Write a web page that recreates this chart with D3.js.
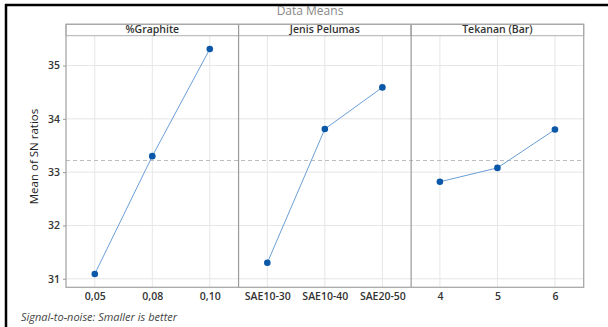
<!DOCTYPE html>
<html><head><meta charset="utf-8">
<script src="https://cdn.jsdelivr.net/npm/d3@7"></script>
<style>body{margin:0;background:#fff}svg{display:block}</style>
</head><body>
<script>
const panelTitles = ["%Graphite", "Jenis Pelumas", "Tekanan (Bar)"];
const graphiteLevels = ["0,05", "0,08", "0,10"];
const graphiteMeans = [31.09, 33.30, 35.31];
const pelumasLevels = ["SAE10-30", "SAE10-40", "SAE20-50"];
const pelumasMeans = [31.30, 33.81, 34.59];
const tekananLevels = ["4", "5", "6"];
const tekananMeans = [32.82, 33.08, 33.80];
const yTicks = [31, 32, 33, 34, 35];
const grandMean = 33.23;

(function () {
const W = 608, H = 327;
const svg = d3.select("body").append("svg").attr("width", W).attr("height", H);
const font = "'Open Sans', 'Noto Sans', sans-serif";

const pLeft = 66, pRight = 583.7, pTop = 35.7, pBottom = 287.3, headTop = 24.3;
const y = d3.scaleLinear().domain([30.84, 35.56]).range([pBottom, pTop]);
const panelX = d3.scaleBand().domain(panelTitles).range([pLeft, pRight]).paddingInner(0).paddingOuter(0);

const panels = [
  {title: panelTitles[0], levels: graphiteLevels, means: graphiteMeans},
  {title: panelTitles[1], levels: pelumasLevels, means: pelumasMeans},
  {title: panelTitles[2], levels: tekananLevels, means: tekananMeans}
];

// outer frame (black, left and top)
svg.append("line").attr("x1", 6).attr("x2", 6).attr("y1", 4).attr("y2", H).attr("stroke", "#000").attr("stroke-width", 2.5);
svg.append("line").attr("x1", 5).attr("x2", W).attr("y1", 5).attr("y2", 5).attr("stroke", "#000").attr("stroke-width", 2.5);

// title
svg.append("text").attr("x", 310).attr("y", 15).attr("text-anchor", "middle")
  .attr("font-family", font).attr("font-size", 12).attr("fill", "#888").text("Data Means");

// horizontal gridlines
svg.append("g").selectAll("line").data(yTicks).join("line")
  .attr("x1", pLeft).attr("x2", pRight).attr("y1", d => y(d)).attr("y2", d => y(d))
  .attr("stroke", "#e6e6e6").attr("stroke-width", 1);

panels.forEach(p => {
  const x0 = panelX(p.title), w = panelX.bandwidth();
  const x = d3.scalePoint().domain(p.levels).range([x0, x0 + w]).padding(0.5);
  const g = svg.append("g");
  g.selectAll("line.vg").data(p.levels).join("line").attr("class", "vg")
    .attr("x1", d => x(d)).attr("x2", d => x(d)).attr("y1", pTop).attr("y2", pBottom)
    .attr("stroke", "#e6e6e6").attr("stroke-width", 1);
  g.append("rect").attr("x", x0).attr("y", headTop).attr("width", w).attr("height", pTop - headTop)
    .attr("fill", "#fff").attr("stroke", "#b0b0b0").attr("stroke-width", 1);
  g.append("text").attr("x", x0 + w / 2).attr("y", pTop - 2.5).attr("text-anchor", "middle")
    .attr("font-family", font).attr("font-size", 10.5).attr("font-weight", 600).attr("fill", "#333").text(p.title);
  const ax = d3.axisBottom(x).tickSize(0).tickPadding(5);
  const axg = svg.append("g").attr("transform", `translate(0,${pBottom})`).call(ax);
  axg.select(".domain").remove();
  axg.selectAll("text").attr("font-family", font).attr("font-size", 10.5).attr("font-weight", 600).attr("fill", "#333");
  p.x = x;
});

// dashed grand mean line
svg.append("line").attr("x1", pLeft).attr("x2", pRight).attr("y1", Math.round(y(grandMean)) + 0.5).attr("y2", Math.round(y(grandMean)) + 0.5)
  .attr("stroke", "#bdbdbd").attr("stroke-width", 1).attr("stroke-dasharray", "4,3");

// panel dividers and frame
panels.slice(1).forEach(p => {
  const xx = panelX(p.title);
  svg.append("line").attr("x1", xx).attr("x2", xx).attr("y1", headTop).attr("y2", pBottom)
    .attr("stroke", "#9a9a9a").attr("stroke-width", 1.2);
});
svg.append("rect").attr("x", pLeft).attr("y", headTop).attr("width", pRight - pLeft).attr("height", pBottom - headTop)
  .attr("fill", "none").attr("stroke", "#a8a8a8").attr("stroke-width", 1.3);

// lines and points
panels.forEach(p => {
  const pts = p.levels.map((l, i) => [p.x(l), y(p.means[i])]);
  svg.append("path").attr("d", d3.line()(pts)).attr("fill", "none").attr("stroke", "#6b9ed6").attr("stroke-width", 1);
  svg.append("g").selectAll("circle").data(pts).join("circle")
    .attr("cx", d => d[0]).attr("cy", d => d[1]).attr("r", 3.3).attr("fill", "#0b57a8");
});

// y axis
const yax = d3.axisLeft(y).tickValues(yTicks).tickSize(3).tickPadding(3).tickFormat(d3.format("d"));
const yg = svg.append("g").attr("transform", `translate(${pLeft},0)`).call(yax);
yg.select(".domain").remove();
yg.selectAll(".tick line").attr("stroke", "#999");
yg.selectAll("text").attr("font-family", font).attr("font-size", 10.5).attr("font-weight", 600).attr("fill", "#333");

svg.append("text").attr("transform", `translate(38,${(pTop + pBottom) / 2 - 5}) rotate(-90)`)
  .attr("text-anchor", "middle").attr("font-family", font).attr("font-size", 11.5).attr("fill", "#222")
  .text("Mean of SN ratios");

svg.append("text").attr("x", 21).attr("y", 321).attr("font-family", font).attr("font-size", 11)
  .attr("font-style", "italic").attr("fill", "#444").text("Signal-to-noise: Smaller is better");
})();
</script>
</body></html>
